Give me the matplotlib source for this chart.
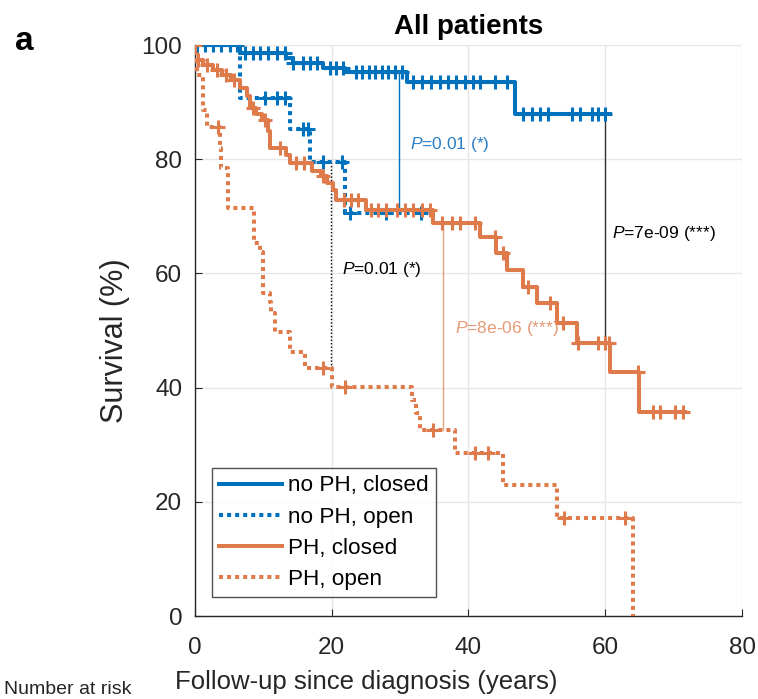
import numpy as np
import matplotlib
matplotlib.use("Agg")
import matplotlib.pyplot as plt

plt.rcParams["font.family"] = ["Liberation Sans", "DejaVu Sans"]
plt.rcParams["mathtext.fontset"] = "custom"
plt.rcParams["mathtext.rm"] = "Liberation Sans"
plt.rcParams["mathtext.it"] = "Liberation Sans:italic"

# ---------------------------------------------------------------------------
# Kaplan-Meier step data (event times in years, survival % after the step)
# ---------------------------------------------------------------------------
nph_closed_t = [0, 6.6, 13.4, 14.3, 18.7, 22.0, 31.0, 46.8]
nph_closed_s = [100, 98.6, 97.7, 96.8, 96.0, 95.3, 93.5, 88.0]
nph_closed_end = 60.7
nph_closed_cens = [0.3, 1.5, 2.6, 3.9, 5.1, 6.1, 7.3, 8.5, 9.5, 10.7, 12.0, 13.2,
                   14.3, 15.8, 16.8, 17.8, 19.7, 20.6, 21.6, 23.5, 24.5, 25.4, 26.4,
                   27.4, 28.3, 29.3, 30.3, 31.9, 33.2, 34.5, 35.8, 37.0, 38.2, 39.5,
                   40.7, 41.7, 43.9, 45.6, 48.0, 49.3, 50.4, 51.6, 55.1, 56.3, 58.0,
                   58.9, 59.9]

nph_open_t = [0, 6.6, 13.9, 16.8, 21.9]
nph_open_s = [100, 90.7, 85.3, 79.5, 70.6]
nph_open_end = 33.0
nph_open_cens = [10.2, 12.0, 13.2, 15.8, 16.5, 18.7, 21.5, 22.7, 28.0, 33.0]

ph_closed_t = [0, 1.2, 2.6, 4.0, 5.3, 6.6, 7.6, 8.0, 9.0, 9.8, 10.7, 11.0, 13.4,
               13.9, 17.2, 18.5, 19.3, 20.2, 20.7, 25.0, 34.8, 41.7, 44.1, 45.6,
               48.0, 50.0, 52.9, 55.8, 60.7, 65.0]
ph_closed_s = [97.4, 96.5, 95.6, 94.8, 93.8, 92.5, 91.0, 89.0, 88.0, 86.9, 85.0,
               82.0, 80.7, 79.3, 78.0, 77.0, 75.8, 74.6, 72.9, 71.1, 68.8, 66.4,
               63.6, 60.6, 57.6, 54.8, 51.3, 47.8, 42.7, 35.7]
ph_closed_end = 71.6
ph_closed_cens = [0.5, 1.8, 3.2, 4.6, 5.8, 8.5, 10.2, 12.5, 14.8, 16.0, 18.8, 21.8,
                  22.8, 23.8, 25.8, 26.8, 28.0, 29.5, 30.7, 31.9, 33.2, 34.4, 36.1,
                  37.6, 38.7, 40.9, 43.9, 45.0, 48.7, 51.9, 53.8, 56.0, 58.9, 60.0,
                  60.5, 64.8, 67.0, 68.0, 70.2, 71.3]

ph_open_t = [0, 0.3, 1.2, 1.8, 3.7, 3.9, 4.8, 8.6, 9.6, 9.9, 11.0, 11.2, 11.7,
             13.9, 16.1, 20.0, 31.7, 32.4, 32.9, 38.0, 45.0, 53.0, 64.0]
ph_open_s = [100, 94.8, 88.6, 85.7, 82.0, 78.5, 71.4, 65.3, 63.8, 56.6, 55.0, 53.0,
             49.7, 46.2, 43.4, 40.1, 37.8, 35.5, 32.6, 28.5, 23.0, 17.2, 0]
ph_open_end = 64.0
ph_open_cens = [0.1, 3.4, 18.7, 22.0, 34.8, 40.9, 42.8, 54.0, 62.9]

labels = ["no PH, closed", "no PH, open", "PH, closed", "PH, open"]

BLUE = "#0072BD"
ORANGE = "#DF7A4B"
INK = "#262626"


def surv_at(t_steps, s_steps, t):
    idx = np.searchsorted(t_steps, t, side="right") - 1
    return np.asarray(s_steps)[idx]


fig = plt.figure(figsize=(7.58, 6.99), dpi=100)
ax = fig.add_axes([0.257, 0.1187, 0.722, 0.8169])

groups = [
    (nph_closed_t, nph_closed_s, nph_closed_end, nph_closed_cens, BLUE, "-"),
    (nph_open_t, nph_open_s, nph_open_end, nph_open_cens, BLUE, (0, (1, 1))),
    (ph_closed_t, ph_closed_s, ph_closed_end, ph_closed_cens, ORANGE, "-"),
    (ph_open_t, ph_open_s, ph_open_end, ph_open_cens, ORANGE, (0, (1, 1))),
]

handles = []
for (t, s, end, cens, col, ls), lab in zip(groups, labels):
    tt = list(t) + [end]
    ss = list(s) + [s[-1]]
    h, = ax.step(tt, ss, where="post", color=col, lw=2.9, linestyle=ls,
                 label=lab, zorder=3)
    handles.append(h)
    cy = surv_at(t, s, cens)
    ax.plot(cens, cy, linestyle="none", marker="+", color=col, ms=10, mew=2.2,
            zorder=4)


# p-value connectors between two curves at a given time
def connector(x, ga, gb, color, ls, alpha=1.0):
    ya = surv_at(ga[0], ga[1], x)
    yb = surv_at(gb[0], gb[1], x)
    ax.plot([x, x], [ya, yb], color=color, lw=1.0, linestyle=ls, alpha=alpha,
            zorder=2)


connector(29.9, (nph_closed_t, nph_closed_s), (nph_open_t, nph_open_s), BLUE, "-")
connector(19.9, (nph_open_t, nph_open_s), (ph_open_t, ph_open_s), "black", (0, (1, 1.5)))
connector(36.3, (ph_closed_t, ph_closed_s), (ph_open_t, ph_open_s), ORANGE, "-", 0.7)
connector(60.0, (nph_closed_t, nph_closed_s), (ph_closed_t, ph_closed_s), "#333333", "-")

ax.text(31.5, 82.5, r"$P$=0.01 (*)", color="#2B7FC4", fontsize=12.5, va="center")
ax.text(21.5, 60.6, r"$P$=0.01 (*)", color="black", fontsize=12.5, va="center")
ax.text(38.0, 50.3, r"$P$=8e-06 (***)", color="#E49A76", fontsize=12.5, va="center")
ax.text(61.0, 67.0, r"$P$=7e-09 (***)", color="black", fontsize=12.5, va="center")

ax.set_xlim(0, 80)
ax.set_ylim(0, 100)
ax.set_xticks([0, 20, 40, 60, 80])
ax.set_yticks([0, 20, 40, 60, 80, 100])
ax.grid(True, color="#e6e6e6", lw=1.0, zorder=0)
ax.set_axisbelow(True)
for side in ["top", "right"]:
    ax.spines[side].set_visible(False)
for side in ["left", "bottom"]:
    ax.spines[side].set_color(INK)
    ax.spines[side].set_linewidth(1.0)
ax.tick_params(direction="in", length=5, labelsize=17.5, colors=INK,
               labelcolor=INK)
ax.tick_params(axis="x", pad=15)
ax.tick_params(axis="y", pad=9)

ax.set_xlabel("Follow-up since diagnosis (years)", fontsize=18.5, color=INK)
ax.xaxis.set_label_coords(0.3126, -0.095)
ax.set_ylabel("Survival (%)", fontsize=22, color=INK)
ax.yaxis.set_label_coords(-0.119, 0.483)
ax.set_title("All patients", fontsize=20, fontweight="bold", pad=8)

leg = ax.legend(handles=handles, loc="lower left", bbox_to_anchor=(0.031, 0.033),
                borderaxespad=0, fontsize=16.2, frameon=True, fancybox=False,
                edgecolor=INK, handlelength=2.8, handletextpad=0.25,
                labelspacing=0.45, borderpad=0.33)
leg.get_frame().set_linewidth(1.0)

fig.text(0.02, 0.928, "a", fontsize=24, fontweight="bold", va="baseline")
fig.text(0.005, 0.001, "Number at risk", fontsize=14, color=INK, va="bottom")

fig.savefig("out.png", dpi=100)
